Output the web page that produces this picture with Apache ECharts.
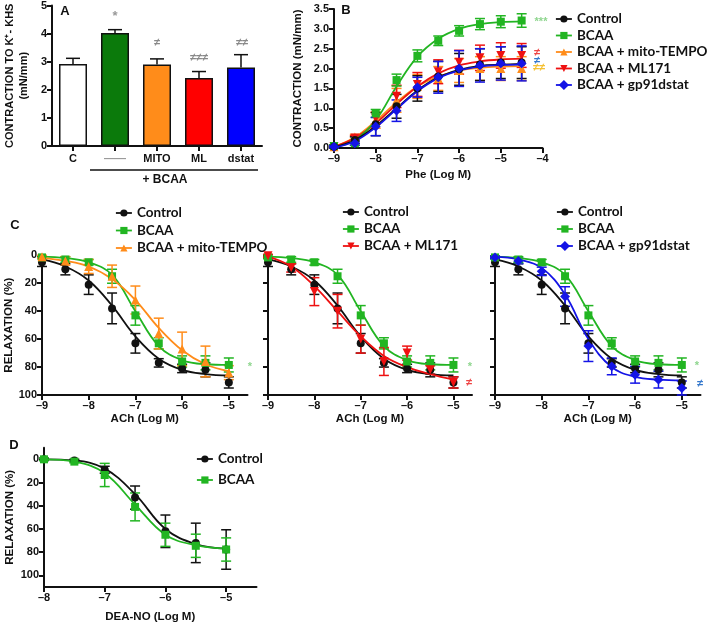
<!DOCTYPE html>
<html>
<head>
<meta charset="utf-8">
<script src="https://cdn.jsdelivr.net/npm/echarts@6/dist/echarts.min.js"></script>
<style>
html,body{margin:0;padding:0;background:#fff;}
#chart{width:709px;height:624px;}
</style>
</head>
<body>
<div id="chart"></div>
<script>
// panel A - bars
var barCats = ['C', '——', 'MITO', 'ML', 'dstat'];
var barVals = [2.92, 4.02, 2.9, 2.42, 2.79];
var barErr = [0.2, 0.12, 0.2, 0.23, 0.46];

// panel B - Phe curves
var pheX = [-9, -8.5, -8, -7.5, -7, -6.5, -6, -5.5, -5, -4.5];
var pheControl = [0.03, 0.2, 0.6, 1.05, 1.5, 1.8, 1.98, 2.1, 2.15, 2.15];
var pheControlErr = [0.03, 0.08, 0.29, 0.3, 0.32, 0.38, 0.4, 0.4, 0.4, 0.4];
var pheBcaa = [0.05, 0.12, 0.87, 1.71, 2.32, 2.7, 2.95, 3.12, 3.18, 3.21];
var pheBcaaErr = [0.03, 0.05, 0.1, 0.15, 0.15, 0.12, 0.13, 0.14, 0.15, 0.17];
var pheMito = [0.03, 0.28, 0.7, 1.2, 1.55, 1.75, 1.95, 2.0, 2.0, 2.0];
var pheMitoErr = [0.03, 0.06, 0.2, 0.3, 0.3, 0.3, 0.3, 0.3, 0.3, 0.3];
var pheMl = [0.03, 0.25, 0.75, 1.3, 1.6, 1.92, 2.16, 2.27, 2.33, 2.33];
var pheMlErr = [0.03, 0.06, 0.15, 0.28, 0.3, 0.3, 0.3, 0.32, 0.32, 0.3];
var pheGp = [0.03, 0.12, 0.54, 0.94, 1.53, 1.78, 2.0, 2.08, 2.13, 2.13];
var pheGpErr = [0.03, 0.05, 0.23, 0.27, 0.25, 0.4, 0.45, 0.42, 0.42, 0.44];
// fitted curves
var pheControlFit = [0.02, 0.2, 0.55, 1.0, 1.45, 1.78, 1.97, 2.07, 2.1, 2.12];
var pheBcaaFit = [0.02, 0.2, 0.7, 1.55, 2.3, 2.75, 3.0, 3.12, 3.17, 3.19];
var pheMitoFit = [0.03, 0.27, 0.68, 1.15, 1.55, 1.8, 1.95, 2.02, 2.05, 2.06];
var pheMlFit = [0.03, 0.25, 0.62, 1.1, 1.55, 1.88, 2.08, 2.18, 2.23, 2.25];
var pheGpFit = [0.01, 0.17, 0.52, 0.98, 1.43, 1.76, 1.95, 2.05, 2.09, 2.1];

// panel C - ACh relaxation
var achX = [-9, -8.5, -8, -7.5, -7, -6.5, -6, -5.5, -5];
var achControl = [5, 10, 21, 38, 63, 77, 81, 82, 91];
var achControlErr = [3, 4, 7, 11, 7, 3, 3, 5, 4];
var achBcaa = [1.5, 3, 5, 15, 43, 63, 76, 77, 78.5];
var achBcaaErr = [1, 2, 2, 5, 7, 4, 4, 5, 5];
var achMito = [1, 4, 8, 15, 32, 56, 67, 76, 84];
var achMitoErr = [1, 3, 5, 8, 10, 11, 12, 11, 5];
var achMl = [0.3, 9, 26, 40, 60, 76, 70, 82, 91];
var achMlErr = [1, 3, 10, 12, 10, 10, 5, 3, 4];
var achGp = [1.5, 4, 11.5, 29.5, 65, 79.5, 85.5, 89, 95];
var achGpErr = [1, 2, 3, 7, 11, 6, 6, 6, 5];
var achControlFit = [3, 8, 18, 36, 58, 74, 82, 85, 86];
var achBcaaFit = [1, 2, 5, 14, 40, 65, 75, 78, 78.5];
var achMitoFit = [2, 4, 8, 17, 32, 52, 68, 78, 83];
var achMlFit = [1, 8, 22, 40, 58, 72, 80, 85, 89];
var achGpFit = [1, 3, 9, 28, 60, 80, 87, 89, 89.5];

// panel D - DEA-NO relaxation
var deaX = [-8, -7.5, -7, -6.5, -6, -5.5, -5];
var deaControl = [0, 1, 9, 33, 62, 72, 77.7];
var deaControlErr = [1, 1, 3, 10, 14, 17, 17];
var deaBcaa = [0, 2, 13.5, 41, 65, 74.5, 77.7];
var deaBcaaErr = [1, 1, 10, 12, 10, 10, 10];
var deaControlFit = [0, 1, 8, 30, 60, 73, 77];
var deaBcaaFit = [0, 2, 12, 39, 65, 74, 77];

var chart = echarts.init(document.getElementById('chart'));

var FONT = 'Liberation Sans, Arial, sans-serif';
var LFONT = 'Lato, sans-serif';
var styles = {
    control: {color: '#111111', symbol: 'circle', size: 8, rot: 0},
    bcaa: {color: '#22b522', symbol: 'rect', size: 8, rot: 0},
    mito: {color: '#ff8c1a', symbol: 'triangle', size: 9, rot: 0},
    ml: {color: '#ee1111', symbol: 'triangle', size: 9, rot: 180},
    gp: {color: '#1414e6', symbol: 'rect', size: 7, rot: 45}
};
var barColors = ['#ffffff', '#0b7a0b', '#ff8c1a', '#ff0000', '#0000ff'];

function negFmt(v){
    return v < 0 ? '\u2013' + Math.abs(v) : String(v);
}

function axisBase(){
    return {
        axisLine: {show: true, onZero: false, lineStyle: {color: '#111', width: 2}},
        axisTick: {show: true, length: 5, lineStyle: {color: '#111', width: 2}},
        axisLabel: {color: '#111', fontWeight: 'bold', fontSize: 11, fontFamily: FONT, margin: 5},
        splitLine: {show: false},
        nameTextStyle: {color: '#111', fontWeight: 'bold', fontSize: 11.5, fontFamily: FONT},
        nameLocation: 'middle'
    };
}
function mk(extra){
    var a = axisBase();
    for (var k in extra) {
        if (typeof extra[k] === 'object' && a[k] && !Array.isArray(extra[k])) {
            for (var j in extra[k]) a[k][j] = extra[k][j];
        } else {
            a[k] = extra[k];
        }
    }
    return a;
}

function pts(name, gi, xs, ys, st){
    var d = [];
    for (var i = 0; i < xs.length; i++) d.push([xs[i], ys[i]]);
    return {
        name: name, type: 'line', xAxisIndex: gi, yAxisIndex: gi, data: d,
        symbol: st.symbol, symbolSize: st.size, symbolRotate: st.rot, showAllSymbol: true,
        itemStyle: {color: st.color}, lineStyle: {color: st.color, width: 1.8, opacity: 0},
        z: 6, animation: false, silent: true
    };
}
function fit(gi, xs, ys, st){
    var d = [];
    for (var i = 0; i < xs.length; i++) d.push([xs[i], ys[i]]);
    return {
        type: 'line', xAxisIndex: gi, yAxisIndex: gi, data: d, smooth: 0.4,
        symbol: 'none', lineStyle: {color: st.color, width: 1.8},
        z: 4, animation: false, silent: true
    };
}
function err(gi, xs, ys, es, st, capW){
    var d = [];
    for (var i = 0; i < xs.length; i++) d.push([xs[i], ys[i] - es[i], ys[i] + es[i]]);
    return {
        type: 'custom', xAxisIndex: gi, yAxisIndex: gi, data: d, z: 3, silent: true,
        animation: false, clip: false,
        encode: {x: 0, y: [1, 2]},
        renderItem: function(params, api){
            var p1 = api.coord([api.value(0), api.value(1)]);
            var p2 = api.coord([api.value(0), api.value(2)]);
            var s = {stroke: st.color, lineWidth: 1.5};
            var h = capW / 2;
            return {type: 'group', children: [
                {type: 'line', shape: {x1: p1[0], y1: p1[1], x2: p2[0], y2: p2[1]}, style: s},
                {type: 'line', shape: {x1: p1[0] - h, y1: p1[1], x2: p1[0] + h, y2: p1[1]}, style: s},
                {type: 'line', shape: {x1: p2[0] - h, y1: p2[1], x2: p2[0] + h, y2: p2[1]}, style: s}
            ]};
        }
    };
}
function group(name, gi, xs, ys, es, fs, st, capW){
    return [err(gi, xs, ys, es, st, capW), fit(gi, xs, fs, st), pts(name, gi, xs, ys, st)];
}

var grids = [
    {left: 52, top: 4.7, width: 210, height: 141.3},
    {left: 334, top: 9, width: 208.5, height: 139},
    {left: 42, top: 255.3, width: 205.5, height: 139.7},
    {left: 268, top: 255.3, width: 204, height: 139.7},
    {left: 495, top: 255.3, width: 205.5, height: 139.7},
    {left: 44, top: 447.7, width: 212.5, height: 140}
];

var achTicks = [-9, -8, -7, -6, -5];
var xAxes = [
    mk({gridIndex: 0, type: 'category', data: barCats,
        axisTick: {alignWithLabel: true},
        axisLabel: {margin: 7, color: function(v, i){ return i === 1 ? '#999' : '#111'; }}}),
    mk({gridIndex: 1, type: 'value', min: -9, max: -4, interval: 1, name: 'Phe (Log M)', nameGap: 21,
        axisLabel: {formatter: negFmt}}),
    mk({gridIndex: 2, type: 'value', min: -9, max: -4.6, name: 'ACh (Log M)', nameGap: 18,
        axisTick: {customValues: achTicks}, axisLabel: {customValues: achTicks, formatter: negFmt}}),
    mk({gridIndex: 3, type: 'value', min: -9, max: -4.6, name: 'ACh (Log M)', nameGap: 18,
        axisTick: {customValues: achTicks}, axisLabel: {customValues: achTicks, formatter: negFmt}}),
    mk({gridIndex: 4, type: 'value', min: -9, max: -4.6, name: 'ACh (Log M)', nameGap: 18,
        axisTick: {customValues: achTicks}, axisLabel: {customValues: achTicks, formatter: negFmt}}),
    mk({gridIndex: 5, type: 'value', min: -8, max: -4.5, name: 'DEA-NO (Log M)', nameGap: 24,
        axisTick: {customValues: [-8, -7, -6, -5]}, axisLabel: {customValues: [-8, -7, -6, -5], formatter: negFmt}})
];
var relTicks = [0, 20, 40, 60, 80, 100];
var yAxes = [
    mk({gridIndex: 0, type: 'value', min: 0, max: 5, interval: 1,
        name: 'CONTRACTION TO K\u207A- KHS\n(mN/mm)', nameGap: 21,
        nameTextStyle: {lineHeight: 14, fontSize: 11}}),
    mk({gridIndex: 1, type: 'value', min: 0, max: 3.5, interval: 0.5,
        name: 'CONTRACTION (mN/mm)', nameGap: 30,
        axisLabel: {formatter: function(v){ return v.toFixed(1); }}}),
    mk({gridIndex: 2, type: 'value', min: 0, max: 100, interval: 20, inverse: true,
        name: 'RELAXATION (%)', nameGap: 27}),
    mk({gridIndex: 3, type: 'value', min: 0, max: 100, interval: 20, inverse: true,
        axisLabel: {show: false}}),
    mk({gridIndex: 4, type: 'value', min: 0, max: 100, interval: 20, inverse: true,
        axisLabel: {show: false}}),
    mk({gridIndex: 5, type: 'value', min: -10, max: 110, inverse: true,
        name: 'RELAXATION (%)', nameGap: 28,
        axisTick: {customValues: relTicks}, axisLabel: {customValues: relTicks}})
];

var series = [];
// A bars
series.push({
    type: 'bar', xAxisIndex: 0, yAxisIndex: 0, barWidth: 28, z: 4, animation: false, silent: true,
    data: barVals.map(function(v, i){
        return {value: v, itemStyle: {color: barColors[i], borderColor: '#111', borderWidth: 1.5}};
    })
});
series.push({
    type: 'custom', xAxisIndex: 0, yAxisIndex: 0, z: 3, silent: true, animation: false,
    data: barVals.map(function(v, i){ return [i, v, v + barErr[i]]; }),
    renderItem: function(params, api){
        var p1 = api.coord([api.value(0), api.value(1)]);
        var p2 = api.coord([api.value(0), api.value(2)]);
        var s = {stroke: '#111', lineWidth: 1.5};
        return {type: 'group', children: [
            {type: 'line', shape: {x1: p1[0], y1: p1[1], x2: p2[0], y2: p2[1]}, style: s},
            {type: 'line', shape: {x1: p2[0] - 7, y1: p2[1], x2: p2[0] + 7, y2: p2[1]}, style: s}
        ]};
    }
});

// B
series = series.concat(
    group('BCAA + mito-TEMPO', 1, pheX, pheMito, pheMitoErr, pheMitoFit, styles.mito, 10),
    group('BCAA + ML171', 1, pheX, pheMl, pheMlErr, pheMlFit, styles.ml, 10),
    group('BCAA', 1, pheX, pheBcaa, pheBcaaErr, pheBcaaFit, styles.bcaa, 10),
    group('Control', 1, pheX, pheControl, pheControlErr, pheControlFit, styles.control, 10),
    group('BCAA + gp91dstat', 1, pheX, pheGp, pheGpErr, pheGpFit, styles.gp, 10)
);
// C1..C3
series = series.concat(
    group('Control', 2, achX, achControl, achControlErr, achControlFit, styles.control, 10),
    group('BCAA', 2, achX, achBcaa, achBcaaErr, achBcaaFit, styles.bcaa, 10),
    group('BCAA + mito-TEMPO', 2, achX, achMito, achMitoErr, achMitoFit, styles.mito, 10),
    group('Control', 3, achX, achControl, achControlErr, achControlFit, styles.control, 10),
    group('BCAA', 3, achX, achBcaa, achBcaaErr, achBcaaFit, styles.bcaa, 10),
    group('BCAA + ML171', 3, achX, achMl, achMlErr, achMlFit, styles.ml, 10),
    group('Control', 4, achX, achControl, achControlErr, achControlFit, styles.control, 10),
    group('BCAA', 4, achX, achBcaa, achBcaaErr, achBcaaFit, styles.bcaa, 10),
    group('BCAA + gp91dstat', 4, achX, achGp, achGpErr, achGpFit, styles.gp, 10)
);
// D
series = series.concat(
    group('Control', 5, deaX, deaControl, deaControlErr, deaControlFit, styles.control, 10),
    group('BCAA', 5, deaX, deaBcaa, deaBcaaErr, deaBcaaFit, styles.bcaa, 10)
);

function legend(names, left, top, gap){
    return {
        data: names, orient: 'vertical', left: left, top: top, itemGap: gap, padding: 0,
        itemWidth: 16, itemHeight: 9, selectedMode: false,
        lineStyle: {opacity: 1, width: 1.8},
        textStyle: {fontFamily: LFONT, fontWeight: 'bold', fontSize: 13.5, color: '#111', lineHeight: 16}
    };
}

function txt(x, y, s, color, size, align){
    return {type: 'text', x: x, y: y, silent: true, style: {
        text: s, fill: color || '#111', fontSize: size || 12, fontWeight: 'bold',
        fontFamily: FONT, align: align || 'center', verticalAlign: 'middle'}};
}

var graphics = [
    txt(65, 11, 'A', '#111', 13),
    txt(115, 16, '*', '#999', 13),
    txt(157, 43, '\u2260', '#888', 11),
    txt(199, 58, '\u2260\u2260\u2260', '#888', 11),
    txt(242, 43, '\u2260\u2260', '#888', 11),
    {type: 'line', silent: true, shape: {x1: 90, y1: 170, x2: 258, y2: 170}, style: {stroke: '#111', lineWidth: 1.5}},
    txt(165, 180, '+ BCAA', '#111', 12),
    txt(346, 10, 'B', '#111', 13),
    txt(541, 22, '***', '#8fd68f', 11),
    txt(537, 53, '\u2260', '#ee4444', 11),
    txt(537, 61, '\u2260', '#3377cc', 11),
    txt(539, 68, '\u2260\u2260', '#f5c030', 11),
    txt(15, 225, 'C', '#111', 13),
    txt(250, 367, '*', '#8fd68f', 11),
    txt(470, 367, '*', '#8fd68f', 11),
    txt(469, 383, '\u2260', '#ee4444', 11),
    txt(697, 366, '*', '#8fd68f', 11),
    txt(700, 384, '\u2260', '#3377cc', 11),
    txt(14, 445, 'D', '#111', 13)
];

var option = {
    backgroundColor: '#ffffff',
    animation: false,
    grid: grids,
    xAxis: xAxes,
    yAxis: yAxes,
    legend: [
        legend(['Control', 'BCAA', 'BCAA + mito-TEMPO', 'BCAA + ML171', 'BCAA + gp91dstat'], 555, 11, 0.5),
        legend(['Control', 'BCAA', 'BCAA + mito-TEMPO'], 115, 205, 1.5),
        legend(['Control', 'BCAA', 'BCAA + ML171'], 342, 204, 1),
        legend(['Control', 'BCAA', 'BCAA + gp91dstat'], 556, 204, 1),
        legend(['Control', 'BCAA'], 196, 451, 5)
    ],
    series: series,
    graphic: graphics
};
chart.setOption(option);
</script>
</body>
</html>
